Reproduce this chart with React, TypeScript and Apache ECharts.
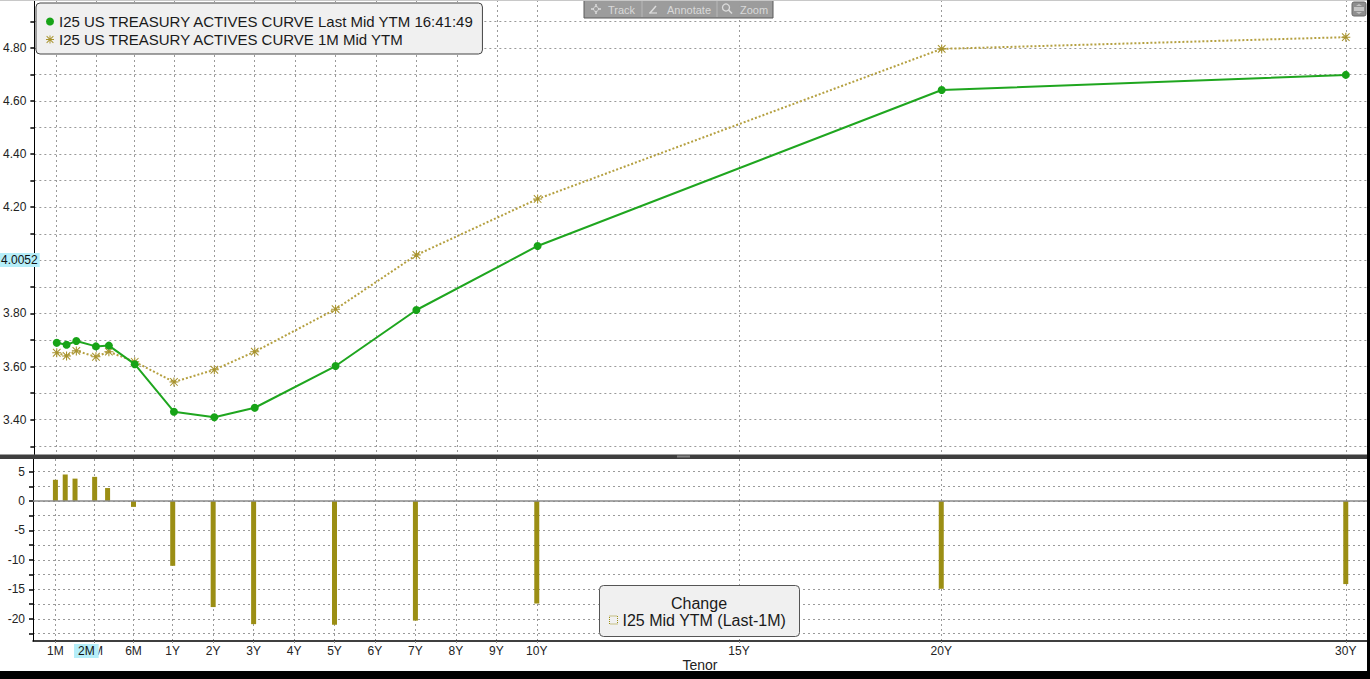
import React, { useEffect, useRef } from "react";
import * as echarts from "echarts";

// ---------- data ----------
const tenors = ["1M", "6W", "2M", "3M", "4M", "6M", "1Y", "2Y", "3Y", "5Y", "7Y", "10Y", "20Y", "30Y"];
const tenorMonths = [1, 1.5, 2, 3, 4, 6, 12, 24, 36, 60, 84, 120, 240, 360];
const lastMidYtm = [3.690, 3.682, 3.696, 3.676, 3.679, 3.609, 3.430, 3.409, 3.445, 3.602, 3.813, 4.054, 4.641, 4.698];
const oneMonthMidYtm = [3.652, 3.640, 3.659, 3.637, 3.656, 3.618, 3.542, 3.588, 3.656, 3.816, 4.020, 4.231, 4.796, 4.840];
const changeBp = [3.6, 4.5, 3.8, 4.1, 2.2, -1.0, -11.0, -18.0, -20.9, -21.0, -20.3, -17.4, -14.9, -14.1];

const xTickLabels = ["1M", "3M", "6M", "1Y", "2Y", "3Y", "4Y", "5Y", "6Y", "7Y", "8Y", "9Y", "10Y", "15Y", "20Y", "30Y"];
const xTickMonths = [1, 3, 6, 12, 24, 36, 48, 60, 72, 84, 96, 108, 120, 180, 240, 360];
const yieldTicks = [3.3, 3.4, 3.5, 3.6, 3.7, 3.8, 3.9, 4.0, 4.1, 4.2, 4.3, 4.4, 4.5, 4.6, 4.7, 4.8, 4.9];
// 4.00 is hidden behind the cursor value label in the reference
const yieldLabels = [3.4, 3.6, 3.8, 4.2, 4.4, 4.6, 4.8];
const changeTicks = [-22.5, -20, -17.5, -15, -12.5, -10, -7.5, -5, -2.5, 0, 2.5, 5];
const changeLabels = [-20, -15, -10, -5, 0, 5];

const SERIES_LAST = "I25 US TREASURY ACTIVES CURVE Last Mid YTM 16:41:49";
const SERIES_1M = "I25 US TREASURY ACTIVES CURVE 1M Mid YTM";
const SERIES_CHG = "I25 Mid YTM (Last-1M)";
const CURSOR_Y = "4.0052";
const CURSOR_X = "2M";

// tenor axis: short end compressed, years linear beyond 1Y
const shortKnotMonths = [1, 3, 6, 12];
const shortKnotPos = [-1.9, -0.93, 0.03, 1];
function tenorToAxis(m: number): number {
  if (m >= 12) return m / 12;
  for (let i = 0; i < shortKnotMonths.length - 1; i++) {
    const a = shortKnotMonths[i], b = shortKnotMonths[i + 1];
    if (m >= a && m <= b) {
      return shortKnotPos[i] + ((m - a) / (b - a)) * (shortKnotPos[i + 1] - shortKnotPos[i]);
    }
  }
  return shortKnotPos[0];
}

const FONT = "'Liberation Sans', Arial, sans-serif";
const GREEN = "#17a317";
const GOLD = "#a8932e";
const OLIVE = "#9b8e14";
const GRID_LINE = { color: "#9a9a9a", type: [2, 3] as any, width: 1 };
const ASTERISK =
  "path://M0,4.4H10V5.6H0Z M4.4,0H5.6V10H4.4Z M1.2,0.4L9.6,8.8L8.8,9.6L0.4,1.2Z M8.8,0.4L9.6,1.2L1.2,9.6L0.4,8.8Z";

export default function App() {
  const ref = useRef<HTMLDivElement>(null);

  useEffect(() => {
    if (!ref.current) return;
    const chart = echarts.init(ref.current, null, { renderer: "svg" });
    const xTickPos = xTickMonths.map(tenorToAxis);
    const X_MIN = -2.454;
    const X_MAX = 30.525;
    const labelFor = (v: number) => {
      const i = xTickPos.findIndex((p) => Math.abs(p - v) < 1e-6);
      return i >= 0 ? xTickLabels[i] : "";
    };

    const option: any = {
      animation: false,
      backgroundColor: "#ffffff",
      grid: [
        { left: 33, right: 3, top: 0, height: 454.5 },
        { left: 33, right: 3, top: 459, height: 182 },
      ],
      xAxis: [
        {
          gridIndex: 0,
          type: "value",
          min: X_MIN,
          max: X_MAX,
          axisLine: { show: false, onZero: false },
          axisTick: { show: false, customValues: xTickPos },
          axisLabel: { show: false, customValues: xTickPos },
          splitLine: { show: true, lineStyle: GRID_LINE },
        },
        {
          gridIndex: 1,
          type: "value",
          min: X_MIN,
          max: X_MAX,
          axisLine: { show: true, onZero: false, lineStyle: { color: "#000", width: 1.5 } },
          axisTick: { show: true, length: 4, customValues: xTickPos, lineStyle: { color: "#888", type: [2, 2] } },
          axisLabel: {
            customValues: xTickPos,
            formatter: labelFor,
            fontSize: 12,
            color: "#222",
            fontFamily: FONT,
            margin: 4,
          },
          splitLine: { show: true, lineStyle: GRID_LINE },
          name: "Tenor",
          nameLocation: "middle",
          nameGap: 17,
          nameTextStyle: { fontSize: 14, color: "#222", fontFamily: FONT },
        },
      ],
      yAxis: [
        {
          gridIndex: 0,
          type: "value",
          min: 3.269,
          max: 4.98,
          axisLine: { show: true, onZero: false, lineStyle: { color: "#000", width: 1 } },
          axisTick: { show: true, length: 4, customValues: yieldTicks, lineStyle: { color: "#000", width: 1.5 } },
          axisLabel: {
            customValues: yieldLabels,
            formatter: (v: number) => v.toFixed(2),
            fontSize: 12,
            color: "#222",
            fontFamily: FONT,
            margin: 8,
          },
          splitLine: { show: true, lineStyle: GRID_LINE },
        },
        {
          gridIndex: 1,
          type: "value",
          min: -23.76,
          max: 7.13,
          axisLine: { show: true, onZero: false, lineStyle: { color: "#000", width: 1 } },
          axisTick: { show: true, length: 4, customValues: changeTicks, lineStyle: { color: "#000", width: 1.5 } },
          axisLabel: {
            customValues: changeLabels,
            formatter: (v: number) => String(v),
            fontSize: 12,
            color: "#222",
            fontFamily: FONT,
            margin: 8,
          },
          splitLine: { show: true, lineStyle: GRID_LINE },
        },
      ],
      legend: [
        {
          left: 36,
          top: 3,
          orient: "vertical",
          backgroundColor: "#f0f0f0",
          borderColor: "#444",
          borderWidth: 1,
          borderRadius: 4,
          padding: [11, 8, 7, 10],
          itemGap: 3,
          itemWidth: 8,
          itemHeight: 8,
          selectedMode: false,
          z: 10,
          textStyle: { fontSize: 15, color: "#1a1a1a", fontFamily: FONT },
          data: [
            { name: SERIES_LAST, icon: "circle", itemStyle: { color: GREEN } },
            { name: SERIES_1M, icon: ASTERISK, itemStyle: { color: GOLD } },
          ],
        },
        {
          left: 609,
          top: 612,
          padding: 0,
          itemWidth: 8,
          itemHeight: 8,
          selectedMode: false,
          z: 10,
          textStyle: { fontSize: 16, color: "#1a1a1a", fontFamily: FONT },
          data: [
            {
              name: SERIES_CHG,
              icon: "rect",
              itemStyle: { color: "rgba(0,0,0,0)", borderColor: OLIVE, borderWidth: 1, borderType: "dotted" },
            },
          ],
        },
      ],
      series: [
        {
          type: "line",
          name: SERIES_1M,
          xAxisIndex: 0,
          yAxisIndex: 0,
          data: tenorMonths.map((m, i) => [tenorToAxis(m), oneMonthMidYtm[i]]),
          symbol: ASTERISK,
          symbolSize: 9,
          itemStyle: { color: GOLD },
          lineStyle: { color: "#b5a040", width: 2, type: "dotted" },
          z: 2,
        },
        {
          type: "line",
          name: SERIES_LAST,
          xAxisIndex: 0,
          yAxisIndex: 0,
          data: tenorMonths.map((m, i) => [tenorToAxis(m), lastMidYtm[i]]),
          symbol: "circle",
          symbolSize: 8,
          itemStyle: { color: GREEN },
          lineStyle: { color: "#1fa61f", width: 2 },
          z: 3,
        },
        {
          type: "bar",
          name: SERIES_CHG,
          xAxisIndex: 1,
          yAxisIndex: 1,
          data: tenorMonths.map((m, i) => [tenorToAxis(m), changeBp[i]]),
          barWidth: 5,
          itemStyle: { color: OLIVE },
          markLine: {
            silent: true,
            symbol: "none",
            label: { show: false },
            lineStyle: { color: "#8a8a8a", width: 1.5, type: "solid" },
            data: [{ yAxis: 0 }],
          },
          z: 2,
        },
      ],
      graphic: [
        // top hairline
        { type: "rect", z: 1, shape: { x: 0, y: 0, width: 1367, height: 1 }, style: { fill: "#c8c8c8" } },
        // panel separator
        { type: "rect", z: 8, shape: { x: 0, y: 454.5, width: 1367, height: 4.5 }, style: { fill: "#3e3e3e" } },
        { type: "rect", z: 9, shape: { x: 677, y: 455.5, width: 13, height: 2 }, style: { fill: "#808080" } },
        // frame (right and bottom)
        { type: "rect", z: 20, shape: { x: 1367, y: 0, width: 3, height: 679 }, style: { fill: "#000" } },
        { type: "rect", z: 20, shape: { x: 0, y: 671, width: 1370, height: 8 }, style: { fill: "#000" } },
        // Change legend box
        {
          type: "rect",
          z: 5,
          shape: { x: 599.5, y: 585.5, width: 200, height: 51, r: 4 },
          style: { fill: "#f0f0f0", stroke: "#555", lineWidth: 1 },
        },
        {
          type: "text",
          z: 6,
          x: 699,
          y: 603,
          style: {
            text: "Change",
            fill: "#1a1a1a",
            font: `16px ${FONT}`,
            align: "center",
            verticalAlign: "middle",
          },
        },
        // toolbar
        {
          type: "group",
          x: 584,
          y: 0,
          z: 12,
          children: [
            { type: "rect", shape: { x: 0, y: 0, width: 189, height: 18 }, style: { fill: "#9c9c9c", stroke: "#5a5a5a", lineWidth: 1 } },
            { type: "line", shape: { x1: 58, y1: 1, x2: 58, y2: 17 }, style: { stroke: "#b8b8b8", lineWidth: 1 } },
            { type: "line", shape: { x1: 133, y1: 1, x2: 133, y2: 17 }, style: { stroke: "#b8b8b8", lineWidth: 1 } },
            { type: "line", shape: { x1: 7, y1: 9, x2: 17, y2: 9 }, style: { stroke: "#dcdcdc", lineWidth: 1.5 } },
            { type: "line", shape: { x1: 12, y1: 4, x2: 12, y2: 14 }, style: { stroke: "#dcdcdc", lineWidth: 1.5 } },
            { type: "circle", shape: { cx: 12, cy: 9, r: 2.5 }, style: { fill: "#9c9c9c", stroke: "#dcdcdc", lineWidth: 1 } },
            { type: "text", x: 24, y: 9.5, style: { text: "Track", fill: "#d9d9d9", font: `11px ${FONT}`, verticalAlign: "middle" } },
            { type: "line", shape: { x1: 65, y1: 13, x2: 73, y2: 13 }, style: { stroke: "#dcdcdc", lineWidth: 1.2 } },
            { type: "line", shape: { x1: 66, y1: 13, x2: 72, y2: 6 }, style: { stroke: "#dcdcdc", lineWidth: 1.5 } },
            { type: "text", x: 83, y: 9.5, style: { text: "Annotate", fill: "#d9d9d9", font: `11px ${FONT}`, verticalAlign: "middle" } },
            { type: "circle", shape: { cx: 142, cy: 7.5, r: 3.5 }, style: { fill: "none", stroke: "#dcdcdc", lineWidth: 1.3 } },
            { type: "line", shape: { x1: 144.5, y1: 10, x2: 148, y2: 13.5 }, style: { stroke: "#dcdcdc", lineWidth: 1.6 } },
            { type: "text", x: 156, y: 9.5, style: { text: "Zoom", fill: "#d9d9d9", font: `11px ${FONT}`, verticalAlign: "middle" } },
          ],
        },
        // top-right button
        {
          type: "group",
          x: 1352,
          y: 2,
          z: 12,
          children: [
            { type: "rect", shape: { x: 0, y: 0, width: 14, height: 14, r: 2 }, style: { fill: "#8e8e8e", stroke: "#6a6a6a", lineWidth: 1 } },
            { type: "rect", shape: { x: 2, y: 5, width: 10, height: 4 }, style: { fill: "#c4c4c4" } },
            { type: "polygon", shape: { points: [[4, 4], [10, 4], [7, 2]] }, style: { fill: "#c4c4c4" } },
            { type: "polygon", shape: { points: [[4, 10], [10, 10], [7, 12]] }, style: { fill: "#c4c4c4" } },
          ],
        },
        // cursor value labels
        {
          type: "text",
          z: 15,
          x: 0,
          y: 253,
          style: {
            text: CURSOR_Y,
            fill: "#111",
            font: `12px ${FONT}`,
            backgroundColor: "#b6eef9",
            padding: [1, 2, 1, 1],
          },
        },
        {
          type: "text",
          z: 15,
          x: 74,
          y: 644,
          style: {
            text: CURSOR_X,
            fill: "#111",
            font: `12px ${FONT}`,
            backgroundColor: "#b6eef9",
            padding: [1, 4, 1, 4],
          },
        },
      ],
    };

    chart.setOption(option);
    return () => chart.dispose();
  }, []);

  return (
    <div
      ref={ref}
      style={{ position: "absolute", left: 0, top: 0, width: 1370, height: 679, background: "#fff" }}
    />
  );
}
